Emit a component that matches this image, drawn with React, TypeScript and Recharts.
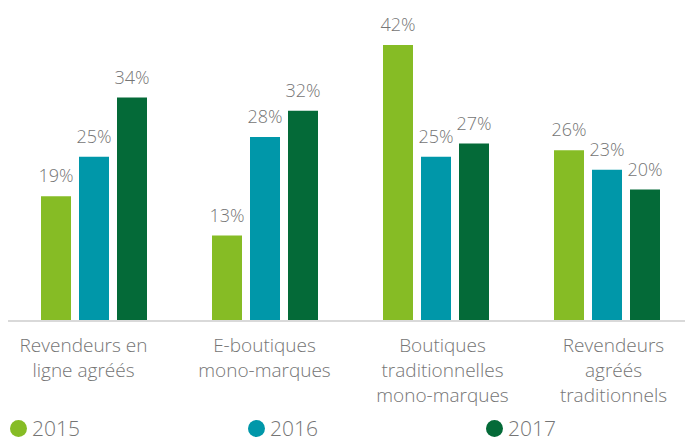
import React from "react";
import { BarChart, Bar, XAxis, YAxis, LabelList, Legend } from "recharts";

const categories = [
  "Revendeurs en\nligne agréés",
  "E-boutiques\nmono-marques",
  "Boutiques\ntraditionnelles\nmono-marques",
  "Revendeurs\nagréés\ntraditionnels",
];
const values2015 = [19, 13, 42, 26];
const values2016 = [25, 28, 25, 23];
const values2017 = [34, 32, 27, 20];
const seriesNames = ["2015", "2016", "2017"];
const colors = ["#86BC25", "#0097A9", "#046A38"];

const data = categories.map((c, i) => ({
  name: c,
  y2015: values2015[i],
  y2016: values2016[i],
  y2017: values2017[i],
}));

const FONT = "'Open Sans', sans-serif";
const TEXT = "#757575";
const tickShift = [-10, 0, 7, 7];

const Tick = (props: any) => {
  const { x, y, payload, index } = props;
  const lines = String(payload.value).split("\n");
  return (
    <text
      x={x + (tickShift[index] || 0)}
      y={y}
      textAnchor="middle"
      fill={TEXT}
      fontSize={19}
      fontFamily={FONT}
      fontWeight={300}
    >
      {lines.map((l, i) => (
        <tspan key={i} x={x + (tickShift[index] || 0)} dy={i === 0 ? 23 : 25}>
          {l}
        </tspan>
      ))}
    </text>
  );
};

const ValueLabel = (props: any) => {
  const { x, y, width, value } = props;
  return (
    <text
      x={x + width / 2}
      y={y - 14}
      textAnchor="middle"
      fill={TEXT}
      fontSize={18}
      fontFamily={FONT}
      fontWeight={300}
    >
      {value}%
    </text>
  );
};

const legendLeft = [10, 248, 486];

const LegendContent = () => (
  <div style={{ position: "relative", width: 685, height: 30 }}>
    {seriesNames.map((n, i) => (
      <div
        key={n}
        style={{
          position: "absolute",
          left: legendLeft[i],
          top: 4,
          display: "flex",
          alignItems: "center",
          fontFamily: FONT,
          fontWeight: 300,
          fontSize: 21,
          color: TEXT,
          lineHeight: "26px",
        }}
      >
        <span
          style={{
            display: "inline-block",
            width: 17,
            height: 17,
            borderRadius: "50%",
            background: colors[i],
            marginRight: 5,
          }}
        />
        {n}
      </div>
    ))}
  </div>
);

export default function App() {
  return (
    <div
      style={{
        position: "absolute",
        left: 0,
        top: 0,
        width: 685,
        height: 441,
        overflow: "hidden",
        background: "#fff",
      }}
    >
      <BarChart
        width={700}
        height={441}
        data={data}
        margin={{ top: 45, right: 8, left: 8, bottom: 0 }}
        barSize={30}
        barGap={8}
      >
        <XAxis
          dataKey="name"
          axisLine={{ stroke: "#d9d9d9", strokeWidth: 2 }}
          tickLine={false}
          tick={<Tick />}
          interval={0}
          height={90}
        />
        <YAxis hide domain={[0, 42]} />
        <Legend
          verticalAlign="bottom"
          height={30}
          content={<LegendContent />}
          wrapperStyle={{ left: 0, width: 685, height: 30 }}
        />
        <Bar dataKey="y2015" fill={colors[0]} isAnimationActive={false}>
          <LabelList content={<ValueLabel />} />
        </Bar>
        <Bar dataKey="y2016" fill={colors[1]} isAnimationActive={false}>
          <LabelList content={<ValueLabel />} />
        </Bar>
        <Bar dataKey="y2017" fill={colors[2]} isAnimationActive={false}>
          <LabelList content={<ValueLabel />} />
        </Bar>
      </BarChart>
    </div>
  );
}
